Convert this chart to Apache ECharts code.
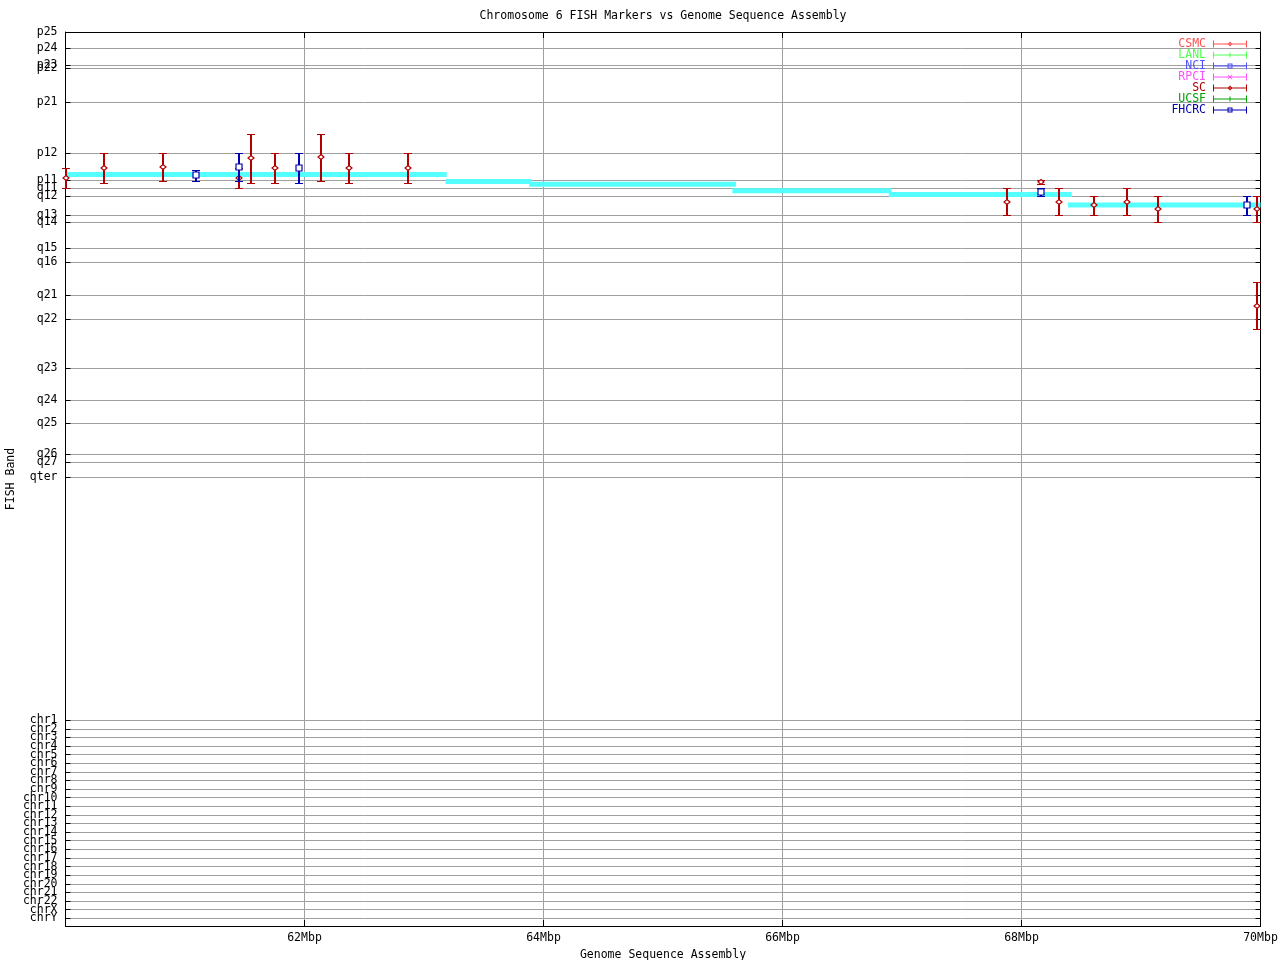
<!DOCTYPE html>
<html><head><meta charset="utf-8">
<script src="https://cdn.jsdelivr.net/npm/echarts@6/dist/echarts.min.js"></script>
<style>html,body{margin:0;padding:0;background:#fff}#c{width:1280px;height:960px}</style>
</head><body><div id="c"></div>
<script>
// ---- data ----
const bandNames = ['p25','p24','p23','p22','p21','p12','p11','q11','q12','q13','q14','q15','q16',
  'q21','q22','q23','q24','q25','q26','q27','qter',
  'chr1','chr2','chr3','chr4','chr5','chr6','chr7','chr8','chr9','chr10','chr11','chr12','chr13',
  'chr14','chr15','chr16','chr17','chr18','chr19','chr20','chr21','chr22','chrX','chrY'];
const bandValues = [0,6.1,12.7,14.0,26.9,46.4,57.0,59.9,63.0,70.3,73.0,83.0,88.5,
  100.9,110.3,129.1,141.4,150.2,162.0,165.1,171.0,
  264.3,267.6,270.9,274.2,277.5,280.8,284.1,287.4,290.7,294.0,297.3,300.6,303.9,
  307.2,310.5,313.9,317.2,320.5,323.8,327.1,330.4,333.7,337.0,340.3];
const yMin = 0, yMax = 343.3;
const xTickValues = [60,62,64,66,68,70];
const xTickLabels = ['','62Mbp','64Mbp','66Mbp','68Mbp','70Mbp'];

// sequence assembly steps (Mbp start, Mbp end, band position)
const asmStart = [60.0, 63.18, 63.88, 65.58, 66.89, 68.39];
const asmEnd   = [63.19, 63.90, 65.61, 66.91, 68.42, 70.0];
const asmBand  = [54.7, 57.4, 58.5, 61.0, 62.4, 66.4];

// SC markers
const scPos    = [60.0, 60.32, 60.82, 61.45, 61.55, 61.75, 62.14, 62.37, 62.87, 67.88, 68.16, 68.31, 68.61, 68.88, 69.14, 69.97, 69.97];
const scBand   = [56.1, 52.25, 51.86, 56.1, 48.4, 52.25, 47.9, 52.25, 52.25, 65.1, 57.6, 65.1, 66.35, 65.1, 68.0, 68.0, 105.15];
const scTop    = [52.25, 46.5, 46.5, 52.25, 39.2, 46.5, 39.2, 46.5, 46.5, 59.9, 57.0, 59.9, 63.0, 59.9, 63.0, 63.0, 96.0];
const scBottom = [59.9, 58.0, 57.2, 59.9, 58.0, 58.0, 57.2, 58.0, 58.0, 70.3, 58.2, 70.3, 70.3, 70.3, 73.0, 73.0, 114.1];

// FHCRC markers
const fhPos    = [61.09, 61.45, 61.95, 68.16, 69.89];
const fhBand   = [54.94, 51.75, 52.25, 61.47, 66.35];
const fhTop    = [53.0, 46.5, 46.5, 59.9, 63.0];
const fhBottom = [57.2, 57.2, 58.0, 62.9, 70.3];

const labNames = ['CSMC','LANL','NCI','RPCI','SC','UCSF','FHCRC'];
const labMarkers = ['diamond','plus','square','cross','diamond','plus','square'];

// ---- styles ----
const labColors = {CSMC:'#ff5050', LANL:'#50ff50', NCI:'#5050ff', RPCI:'#ff50ff', SC:'#b00000', UCSF:'#00a000', FHCRC:'#0000b0'};
const FONT = '"DejaVu Sans Mono", monospace';
const FS = 11.5;
const GRID_COLOR = '#a0a0a0';

const bandMap = {};
bandValues.forEach((v, i) => { bandMap[v.toFixed(2)] = bandNames[i]; });
const xMap = {};
xTickValues.forEach((v, i) => { xMap[v] = xTickLabels[i]; });
const yTickValues = bandValues.concat([yMax]);

const iconBase = 'M0,3H34V4H0Z M0,0H1V7H0Z M33,0H34V7H33Z';
const iconMarks = {
  diamond: ' M17,1L19.5,3.5L17,6L14.5,3.5Z M17,2.3L15.8,3.5L17,4.7L18.2,3.5Z',
  plus: ' M16.5,1H17.5V6H16.5Z',
  square: ' M14.5,1H19.5V6H14.5Z M15.5,2V5H18.5V2Z',
  cross: ' M14.5,1.2L15.5,1.2L19.5,5.8L18.5,5.8Z M18.5,1.2L19.5,1.2L15.5,5.8L14.5,5.8Z'
};

function errRender(marker, color) {
  return function (params, api) {
    const c = api.coord([api.value(0), api.value(1)]);
    const a = api.coord([api.value(0), api.value(2)]);
    const b = api.coord([api.value(0), api.value(3)]);
    const X = Math.round(c[0]) - 1;
    const Y = Math.round(c[1]);
    const ya = Math.round(a[1]), yb = Math.round(b[1]);
    const fl = () => ({fill: color, stroke: null});
    const ch = [
      {type: 'rect', shape: {x: X, y: ya, width: 2, height: yb - ya + 1}, style: fl()},
      {type: 'rect', shape: {x: X - 3, y: ya, width: 8, height: 1}, style: fl()},
      {type: 'rect', shape: {x: X - 3, y: yb, width: 8, height: 1}, style: fl()}
    ];
    const cx = X + 1;
    if (marker === 'diamond') {
      ch.push({type: 'polygon', shape: {points: [[cx, Y - 2.5], [cx + 3, Y], [cx, Y + 2.5], [cx - 3, Y]]},
        style: {stroke: color, lineWidth: 1.2, fill: '#fff'}});
    } else if (marker === 'square') {
      ch.push({type: 'rect', shape: {x: cx - 3, y: Y - 3, width: 6, height: 6},
        style: {stroke: color, lineWidth: 1.2, fill: '#fff'}});
    }
    return {type: 'group', children: ch};
  };
}

function zip4(p, b, t, bo) { return p.map((v, i) => [v, b[i], t[i], bo[i]]); }

const series = [];
series.push({
  type: 'custom', name: 'assembly', silent: true,
  renderItem: function (params, api) {
    const p0 = api.coord([api.value(0), api.value(2)]);
    const p1 = api.coord([api.value(1), api.value(2)]);
    return {type: 'rect', shape: {x: p0[0], y: p0[1] - 2.5, width: p1[0] - p0[0], height: 5}, style: {fill: '#55ffff'}};
  },
  data: asmStart.map((s, i) => [s, asmEnd[i], asmBand[i]]),
  z: 1
});
labNames.forEach((name, i) => {
  let data = [];
  if (name === 'SC') data = zip4(scPos, scBand, scTop, scBottom);
  if (name === 'FHCRC') data = zip4(fhPos, fhBand, fhTop, fhBottom);
  series.push({
    type: 'custom', name: name, silent: true,
    itemStyle: {color: labColors[name]},
    renderItem: errRender(labMarkers[i], labColors[name]),
    encode: {x: 0, y: [1, 2, 3]},
    data: data, z: 2 + i
  });
});

const chart = echarts.init(document.getElementById('c'), null, {renderer: 'canvas'});
chart.setOption({
  animation: false,
  backgroundColor: '#fff',
  title: {
    text: 'Chromosome 6 FISH Markers vs Genome Sequence Assembly',
    left: 663, top: 10, textAlign: 'center', padding: 0,
    textStyle: {fontFamily: FONT, fontSize: FS, fontWeight: 'normal', color: '#000'}
  },
  legend: {
    orient: 'vertical', right: 33, top: 38, align: 'right', padding: 0,
    itemWidth: 34, itemHeight: 7, itemGap: -1, selectedMode: false,
    textStyle: {fontFamily: FONT, fontSize: FS, lineHeight: 10, padding: [0, 2, 0, 0]},
    data: labNames.map((n, i) => ({
      name: n,
      icon: 'path://' + iconBase + iconMarks[labMarkers[i]],
      textStyle: {color: labColors[n]}
    }))
  },
  grid: {left: 65.5, right: 19.5, top: 32, bottom: 34, outerBoundsMode: 'none', containLabel: false},
  xAxis: [{
    type: 'value', min: 60, max: 70, interval: 2, position: 'bottom',
    name: 'Genome Sequence Assembly', nameLocation: 'middle', nameGap: 20,
    nameTextStyle: {fontFamily: FONT, fontSize: FS, color: '#000'},
    axisLine: {show: true, onZero: false, lineStyle: {color: '#000', width: 1}},
    axisTick: {show: true, inside: true, length: 6, lineStyle: {color: '#000'}},
    axisLabel: {fontFamily: FONT, fontSize: FS, color: '#000', margin: 6, formatter: v => xMap[v] || ''},
    splitLine: {show: true, lineStyle: {color: GRID_COLOR, width: 1}}
  }, {
    type: 'value', min: 60, max: 70, interval: 2, position: 'top',
    axisLine: {show: true, onZero: false, lineStyle: {color: '#000', width: 1}},
    axisTick: {show: true, inside: true, length: 6, lineStyle: {color: '#000'}},
    axisLabel: {show: false}, splitLine: {show: false}
  }],
  yAxis: [{
    type: 'value', inverse: true, min: yMin, max: yMax, position: 'left',
    name: 'FISH Band', nameLocation: 'middle', nameGap: 48, nameRotate: 90, nameMoveOverlap: false,
    nameTextStyle: {fontFamily: FONT, fontSize: FS, color: '#000'},
    axisLine: {show: true, onZero: false, lineStyle: {color: '#000', width: 1}},
    axisTick: {show: true, inside: true, length: 5, customValues: yTickValues, lineStyle: {color: '#000'}},
    axisLabel: {fontFamily: FONT, fontSize: FS, lineHeight: 7, color: '#000', margin: 8, customValues: yTickValues,
      hideOverlap: false, formatter: v => bandMap[Number(v).toFixed(2)] || ''},
    splitLine: {show: true, lineStyle: {color: GRID_COLOR, width: 1}}
  }, {
    type: 'value', inverse: true, min: yMin, max: yMax, position: 'right',
    axisLine: {show: true, onZero: false, lineStyle: {color: '#000', width: 1}},
    axisTick: {show: true, inside: true, length: 5, customValues: yTickValues, lineStyle: {color: '#000'}},
    axisLabel: {show: false}, splitLine: {show: false}
  }],
  series: series
});
</script>
</body></html>
